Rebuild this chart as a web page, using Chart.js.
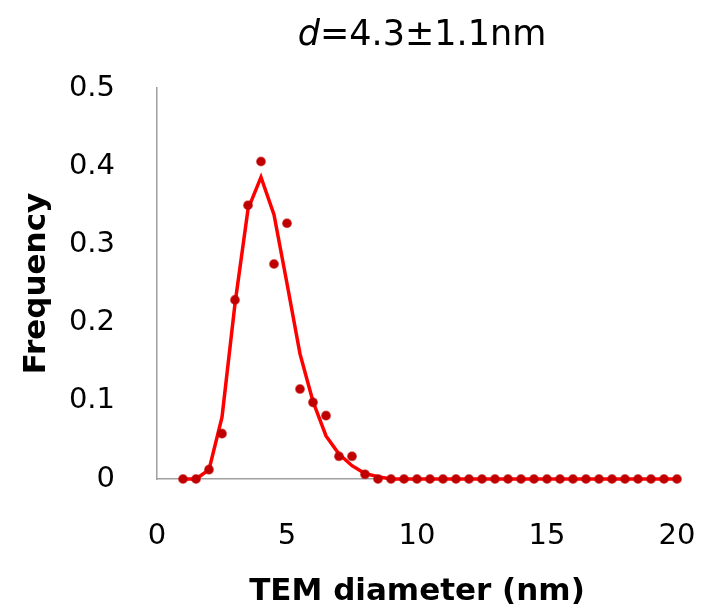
<!DOCTYPE html>
<html><head><meta charset="utf-8">
<script src="https://cdn.jsdelivr.net/npm/chart.js@4.4.1/dist/chart.umd.min.js"></script>
<style>html,body{margin:0;padding:0;background:#fff}#wrap{width:715px;height:616px;position:relative}</style>
</head><body><div id="wrap"><canvas id="c" width="715" height="616"></canvas></div>
<script>
const diameters = [1, 1.5, 2, 2.5, 3, 3.5, 4, 4.5, 5, 5.5, 6, 6.5, 7, 7.5, 8, 8.5, 9, 9.5, 10, 10.5, 11, 11.5, 12, 12.5, 13, 13.5, 14, 14.5, 15, 15.5, 16, 16.5, 17, 17.5, 18, 18.5, 19, 19.5, 20];
const measuredFreq = [0, 0, 0.012, 0.058, 0.229, 0.35, 0.406, 0.275, 0.327, 0.115, 0.098, 0.081, 0.029, 0.029, 0.006, 0, 0, 0, 0, 0, 0, 0, 0, 0, 0, 0, 0, 0, 0, 0, 0, 0, 0, 0, 0, 0, 0, 0, 0];
const fittedFreq = [0, 0, 0.012, 0.079, 0.224, 0.345, 0.386, 0.338, 0.25, 0.16, 0.099, 0.055, 0.032, 0.017, 0.007, 0.003, 0, 0, 0, 0, 0, 0, 0, 0, 0, 0, 0, 0, 0, 0, 0, 0, 0, 0, 0, 0, 0, 0, 0];
const xTicks = [0, 5, 10, 15, 20];
const yTicks = [0, 0.1, 0.2, 0.3, 0.4, 0.5];
const titleItalic = 'd';
const titleRest = '=4.3±1.1nm';
const xTitle = 'TEM diameter (nm)';
const yTitle = 'Frequency';

const FONT = "'DejaVu Sans', sans-serif";

const titlePlugin = {
  id: 'mixedTitle',
  afterDraw(chart) {
    const ctx = chart.ctx;
    ctx.save();
    ctx.fillStyle = '#000';
    ctx.textBaseline = 'alphabetic';
    ctx.font = "italic 35px " + FONT;
    const w1 = ctx.measureText(titleItalic).width;
    ctx.font = "35px " + FONT;
    const w2 = ctx.measureText(titleRest).width;
    const cx = 422;
    let x = cx - (w1 + w2) / 2;
    const y = 45;
    ctx.font = "italic 35px " + FONT;
    ctx.textAlign = 'left';
    ctx.fillText(titleItalic, x, y);
    ctx.font = "35px " + FONT;
    ctx.fillText(titleRest, x + w1, y);
    ctx.restore();
  }
};

const mk = (ys) => diameters.map((d, i) => ({x: d, y: ys[i]}));

new Chart(document.getElementById('c'), {
  type: 'scatter',
  data: {
    datasets: [
      {
        label: 'measured',
        data: mk(measuredFreq),
        showLine: false,
        pointRadius: 4.3,
        pointBackgroundColor: '#C00000',
        pointBorderColor: 'rgba(192,0,0,0.55)',
        pointBorderWidth: 1.5,
        clip: false,
        order: 0
      },
      {
        label: 'fit',
        data: mk(fittedFreq),
        showLine: true,
        borderColor: '#FF0000',
        borderWidth: 3.5,
        pointRadius: 0,
        tension: 0,
        fill: false,
        clip: false,
        order: 1
      }
    ]
  },
  options: {
    responsive: false,
    animation: false,
    devicePixelRatio: 1,
    layout: {padding: {top: 88, right: 38, left: 0, bottom: 0}},
    plugins: {legend: {display: false}, tooltip: {enabled: false}, title: {display: false}},
    scales: {
      x: {
        type: 'linear', min: 0, max: 20,
        afterBuildTicks: (s) => { s.ticks = xTicks.map(v => ({value: v})); },
        afterFit: (s) => { s.height = 137; },
        grid: {display: false, drawTicks: true, tickLength: 40},
        border: {display: true, color: '#A0A0A0', width: 1.5},
        ticks: {color: '#000', font: {family: FONT, size: 29}, padding: 0},
        title: {display: true, text: xTitle, color: '#000', font: {family: FONT, size: 31, weight: 'bold'}, padding: {top: 0, bottom: 5}}
      },
      y: {
        type: 'linear', min: 0, max: 0.5,
        afterBuildTicks: (s) => { s.ticks = yTicks.map(v => ({value: v})); },
        afterFit: (s) => { s.width = 157; },
        grid: {display: false, drawTicks: true, tickLength: 42},
        border: {display: true, color: '#A0A0A0', width: 1.5},
        ticks: {color: '#000', font: {family: FONT, size: 29}, padding: 0},
        title: {display: true, text: yTitle, color: '#000', font: {family: FONT, size: 31, weight: 'bold'}, padding: {top: 18, bottom: 0}}
      }
    }
  },
  plugins: [titlePlugin]
});
</script>
</body></html>
